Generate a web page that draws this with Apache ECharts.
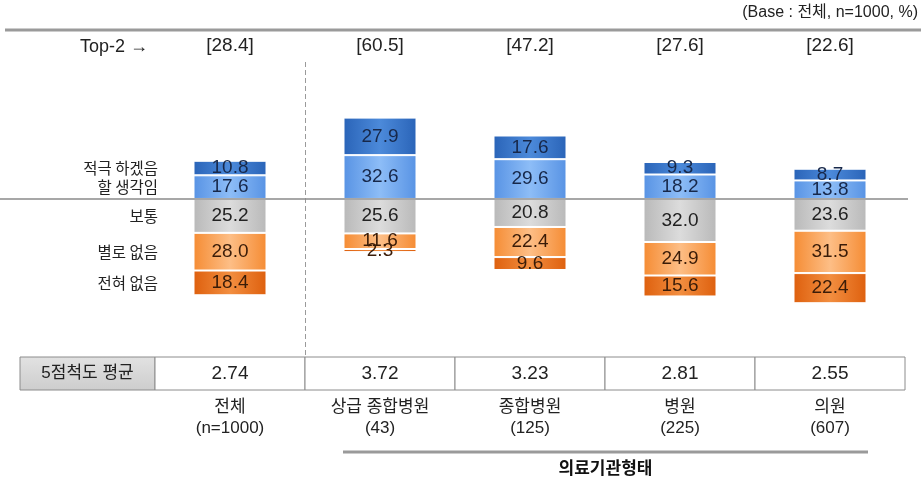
<!DOCTYPE html>
<html>
<head>
<meta charset="utf-8">
<script src="https://cdn.jsdelivr.net/npm/echarts@6/dist/echarts.min.js"></script>
<style>
  html, body { margin: 0; padding: 0; background: #fff; }
  #chart { width: 921px; height: 485px; }
</style>
</head>
<body>
<div id="chart"></div>
<script>
// ── data ───────────────────────────────────────────────────
const categories = ['전체\n(n=1000)', '상급 종합병원\n(43)', '종합병원\n(125)', '병원\n(225)', '의원\n(607)'];
const levels     = ['적극 하겠음', '할 생각임', '보통', '별로 없음', '전혀 없음'];
const strongYes  = [10.8, 27.9, 17.6, 9.3, 8.7];
const likelyYes  = [17.6, 32.6, 29.6, 18.2, 13.8];
const neutral    = [25.2, 25.6, 20.8, 32.0, 23.6];
const notMuch    = [28.0, 11.6, 22.4, 24.9, 31.5];
const notAtAll   = [18.4, 2.3, 9.6, 15.6, 22.4];
const top2       = [28.4, 60.5, 47.2, 27.6, 22.6];
const means      = ['2.74', '3.72', '3.23', '2.81', '2.55'];

const NUM_FONT = "'Liberation Sans', Arial, sans-serif";
const KR_FONT  = "'Noto Sans CJK KR', 'Noto Sans', sans-serif";
const MIX_FONT = "'Liberation Sans', 'Noto Sans CJK KR', sans-serif";

function grad(edge, mid) {
  return new echarts.graphic.LinearGradient(0, 0, 1, 0, [
    { offset: 0, color: edge }, { offset: 0.5, color: mid }, { offset: 1, color: edge }
  ]);
}

// positive answers sit above the line, neutral + negative hang below it
function makeSeries(name, values, sign, edge, mid, textColor) {
  return {
    name, type: 'bar', stack: 'all', barWidth: 73,
    data: values.map(v => sign * v),
    itemStyle: { color: grad(edge, mid), borderColor: '#fff', borderWidth: 1 },
    label: {
      show: true, position: 'inside',
      formatter: p => Math.abs(p.value).toFixed(1),
      color: textColor, fontSize: 19, fontFamily: NUM_FONT
    }
  };
}

const chart = echarts.init(document.getElementById('chart'), null, { renderer: 'canvas' });

chart.setOption({
  animation: false,
  backgroundColor: '#fff',
  grid: { left: 155, right: 16, top: 64.5, height: 285.1 },
  xAxis: [{
    type: 'category', data: categories, position: 'bottom',
    axisLine: { show: false }, axisTick: { show: false },
    axisLabel: { margin: 47, color: '#222', fontSize: 17, lineHeight: 21, fontFamily: MIX_FONT }
  }, {
    type: 'category', data: top2.map(v => '[' + v.toFixed(1) + ']'), position: 'top',
    axisLine: { show: false }, axisTick: { show: false },
    axisLabel: { margin: 9, color: '#222', fontSize: 19, fontFamily: NUM_FONT }
  }],
  yAxis: { type: 'value', min: -112, max: 100, show: false, splitLine: { show: false } },
  series: [
    makeSeries(levels[1], likelyYes, 1, '#5893e4', '#8dbdf7', '#17284a'),
    makeSeries(levels[0], strongYes, 1, '#2a64b8', '#4c8ada', '#17284a'),
    makeSeries(levels[2], neutral, -1, '#b9b9b9', '#dcdcdc', '#222'),
    makeSeries(levels[3], notMuch, -1, '#f58c34', '#fdbe86', '#3a1c08'),
    makeSeries(levels[4], notAtAll, -1, '#de600e', '#f28e40', '#3a1c08')
  ]
});

// ── overlay: baseline, divider, row labels, mean table ──────
(function drawOverlay() {
  const xs = categories.map((c, i) => chart.convertToPixel({ xAxisIndex: 0 }, i));
  const y = v => chart.convertToPixel({ yAxisIndex: 0 }, v);
  const step = xs[1] - xs[0];
  const y0 = y(0);
  const g = [];

  // header
  g.push({ type: 'text', right: 3, top: 5,
    style: { text: '(Base : 전체, n=1000, %)', font: '16px ' + MIX_FONT, fill: '#222' } });
  g.push({ type: 'line', shape: { x1: 5, y1: 30, x2: 921, y2: 30 },
    style: { stroke: '#9a9a9a', lineWidth: 3 } });
  g.push({ type: 'text', x: 148, y: 47,
    style: { text: 'Top-2 →', font: '18px ' + NUM_FONT, fill: '#222', align: 'right', verticalAlign: 'middle' } });

  // zero line & divider after 전체
  g.push({ type: 'line', z: 10, shape: { x1: 0, y1: y0, x2: 908, y2: y0 },
    style: { stroke: '#8a8a8a', lineWidth: 1.5 } });
  const dx = Math.round((xs[0] + xs[1]) / 2) + 0.5;
  g.push({ type: 'line', shape: { x1: dx, y1: 62, x2: dx, y2: 357 },
    style: { stroke: '#9a9a9a', lineWidth: 1, lineDash: [5, 3] } });

  // row labels aligned to the 전체 bar segments
  const first = [
    [levels[0], likelyYes[0] + strongYes[0] / 2],
    [levels[1], likelyYes[0] / 2],
    [levels[2], -neutral[0] / 2],
    [levels[3], -(neutral[0] + notMuch[0] / 2)],
    [levels[4], -(neutral[0] + notMuch[0] + notAtAll[0] / 2)]
  ];
  first.forEach(([txt, v]) => {
    g.push({ type: 'text', x: 158, y: y(v),
      style: { text: txt, font: '15.5px ' + KR_FONT, fill: '#222', align: 'right', verticalAlign: 'middle' } });
  });

  // 5점척도 평균 table
  const tTop = 357, tH = 33;
  const left = xs[0] - step / 2;
  g.push({ type: 'rect', shape: { x: 20, y: tTop, width: left - 20, height: tH },
    style: { fill: new echarts.graphic.LinearGradient(0, 0, 0, 1, [
      { offset: 0, color: '#e2e2e2' }, { offset: 1, color: '#cdcdcd' }]), stroke: '#8c8c8c', lineWidth: 1 } });
  g.push({ type: 'text', x: (20 + left) / 2, y: tTop + tH / 2,
    style: { text: '5점척도 평균', font: '17px ' + MIX_FONT, fill: '#222', align: 'center', verticalAlign: 'middle' } });
  means.forEach((m, i) => {
    g.push({ type: 'rect', shape: { x: xs[i] - step / 2, y: tTop, width: step, height: tH },
      style: { fill: '#fff', stroke: '#8c8c8c', lineWidth: 1 } });
    g.push({ type: 'text', x: xs[i], y: tTop + tH / 2,
      style: { text: m, font: '19px ' + NUM_FONT, fill: '#222', align: 'center', verticalAlign: 'middle' } });
  });

  // group bracket: 의료기관형태
  const gx1 = xs[1] - 37, gx2 = xs[4] + 38;
  g.push({ type: 'line', shape: { x1: gx1, y1: 452, x2: gx2, y2: 452 },
    style: { stroke: '#9a9a9a', lineWidth: 3 } });
  g.push({ type: 'text', x: (gx1 + gx2) / 2, y: 468,
    style: { text: '의료기관형태', font: 'bold 17px ' + KR_FONT, fill: '#111', align: 'center', verticalAlign: 'middle' } });

  chart.setOption({ graphic: g });
})();
</script>
</body>
</html>
